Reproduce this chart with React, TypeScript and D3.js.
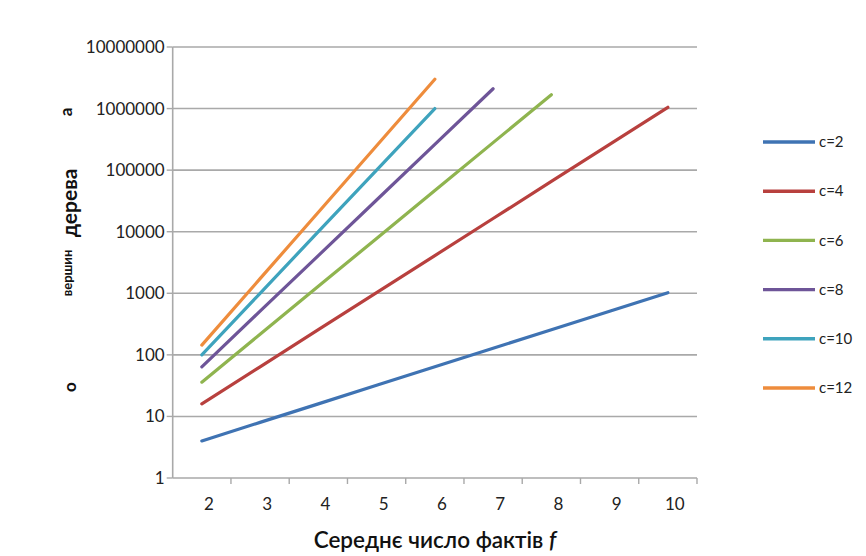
import React from "react";
import * as d3 from "d3";

// average number of facts f (category axis)
const fValues = [2, 3, 4, 5, 6, 7, 8, 9, 10];

// number of tree vertices c^f
const seriesC2 = [4, 8, 16, 32, 64, 128, 256, 512, 1024];
const seriesC4 = [16, 64, 256, 1024, 4096, 16384, 65536, 262144, 1048576];
const seriesC6 = [36, 216, 1296, 7776, 46656, 279936, 1679616];
const seriesC8 = [64, 512, 4096, 32768, 262144, 2097152];
const seriesC10 = [100, 1000, 10000, 100000, 1000000];
const seriesC12 = [144, 1728, 20736, 248832, 2985984];

const seriesNames = ["c=2", "c=4", "c=6", "c=8", "c=10", "c=12"];
const seriesValues = [seriesC2, seriesC4, seriesC6, seriesC8, seriesC10, seriesC12];
const colors = ["#3f73b3", "#b8403e", "#8fb44f", "#6e5598", "#3ea3bd", "#ee8c3c"];

const yTicks = [1, 10, 100, 1000, 10000, 100000, 1000000, 10000000];

const W = 866;
const H = 556;
const left = 172.7;
const right = 697;
const top = 47;
const bottom = 478;
const font = "Lato, 'Open Sans', sans-serif";

export default function App() {
  const x = d3.scalePoint<number>().domain(fValues).range([left, right]).padding(0.5);
  const band = d3.scaleBand<number>().domain(fValues).range([left, right]);
  const y = d3.scaleLog().domain([1, 1e7]).range([bottom, top]);

  const line = d3
    .line<number>()
    .x((_, i) => x(fValues[i]) as number)
    .y((d) => y(d));

  const legendY = d3.scalePoint<string>().domain(seriesNames).range([142, 388]);
  const gridColor = "#a9a9a9";

  return (
    <svg
      width={W}
      height={H}
      style={{ position: "absolute", left: 0, top: 0, background: "#fff" }}
      fontFamily={font}
    >
      {/* horizontal gridlines */}
      {yTicks.map((t) => (
        <g key={t}>
          <line x1={left} x2={right} y1={y(t)} y2={y(t)} stroke={gridColor} strokeWidth={1.6} />
          <line x1={left - 6} x2={left} y1={y(t)} y2={y(t)} stroke={gridColor} strokeWidth={1.4} />
          <text
            x={left - 8}
            y={y(t)}
            dy="0.35em"
            textAnchor="end"
            fontSize={17}
            fill="#222"
          >
            {t}
          </text>
        </g>
      ))}
      {/* y axis */}
      <line x1={left} x2={left} y1={top} y2={bottom} stroke={gridColor} strokeWidth={1.6} />
      {/* x ticks */}
      {fValues.map((f) => (
        <line
          key={"t" + f}
          x1={(band(f) as number) + band.bandwidth()}
          x2={(band(f) as number) + band.bandwidth()}
          y1={bottom}
          y2={bottom + 6}
          stroke={gridColor}
          strokeWidth={1.4}
        />
      ))}
      {fValues.map((f) => (
        <text
          key={"l" + f}
          x={(x(f) as number) + 7}
          y={bottom + 32}
          textAnchor="middle"
          fontSize={17}
          fill="#222"
        >
          {f}
        </text>
      ))}

      {/* series */}
      {seriesValues.map((vals, i) => (
        <path
          key={seriesNames[i]}
          d={line(vals) as string}
          fill="none"
          stroke={colors[i]}
          strokeWidth={3.2}
          strokeLinecap="round"
        />
      ))}

      {/* legend */}
      {seriesNames.map((name, i) => (
        <g key={"lg" + name} transform={`translate(763,${legendY(name)})`}>
          <line x1={0} x2={52} y1={0} y2={0} stroke={colors[i]} strokeWidth={3.4} />
          <text x={56} y={0} dy="0.35em" fontSize={15} fill="#222">
            {name}
          </text>
        </g>
      ))}

      {/* x axis title */}
      <text x={435} y={548} textAnchor="middle" fontSize={22.5} fill="#111" fontWeight={600}>
        Середнє число фактів <tspan fontStyle="italic">f</tspan>
      </text>

      {/* y axis title fragments */}
      <g fill="#111" fontWeight={700}>
        <text transform="translate(70,387) rotate(-90)" textAnchor="middle" dy="0.35em" fontSize={17}>
          о
        </text>
        <text transform="translate(67,273) rotate(-90)" textAnchor="middle" dy="0.35em" fontSize={13}>
          вершин
        </text>
        <text transform="translate(70,203) rotate(-90)" textAnchor="middle" dy="0.35em" fontSize={21}>
          дерева
        </text>
        <text transform="translate(66,112) rotate(-90)" textAnchor="middle" dy="0.35em" fontSize={17}>
          а
        </text>
      </g>
    </svg>
  );
}
